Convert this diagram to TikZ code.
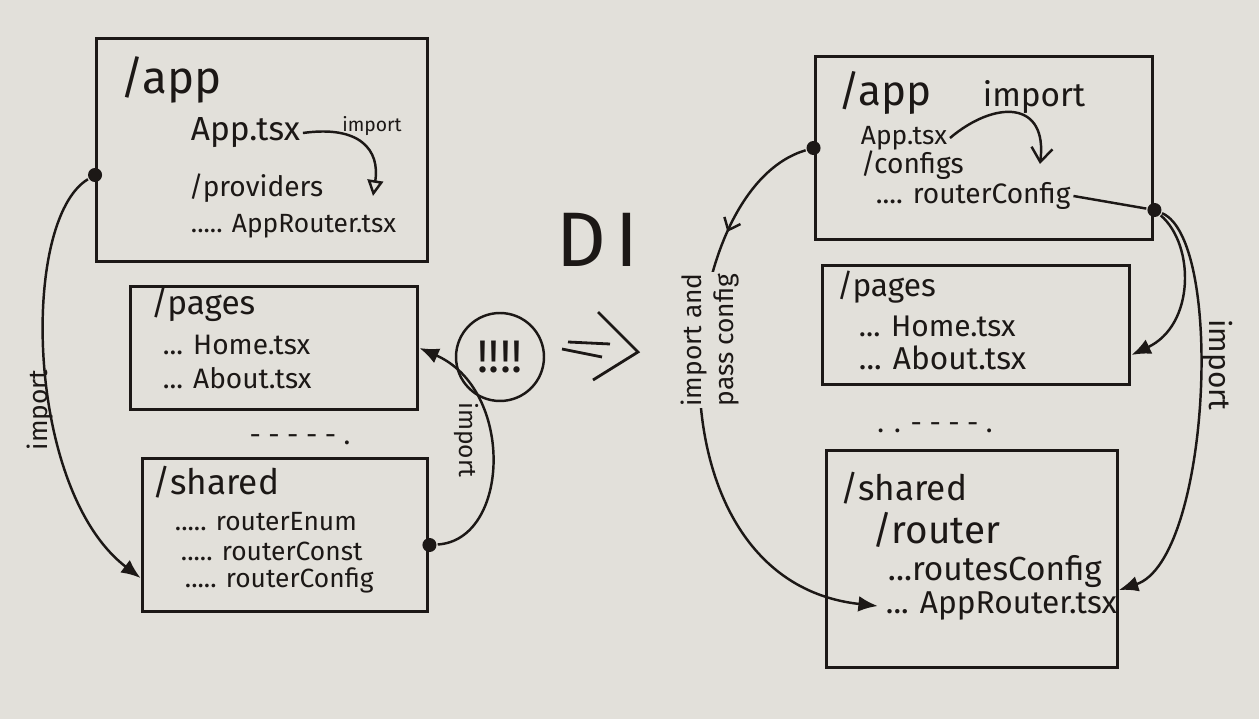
\documentclass[tikz,border=0pt]{standalone}
\usepackage{fontspec}
\setmainfont{Fira Sans}
\usepackage{tikz}
\usetikzlibrary{positioning, arrows.meta, decorations.markings, calc}
\definecolor{board}{RGB}{226,224,218}
\definecolor{ink}{RGB}{28,24,22}

\begin{document}
\begin{tikzpicture}[x=0.02cm, y=-0.02cm, ink, line width=1.4pt,
    folder/.style={draw, rectangle, line width=1.7pt},
    title/.style={anchor=west, inner sep=1pt, font=\fontsize{24}{28}\selectfont},
    item/.style={anchor=west, inner sep=1pt, font=\fontsize{16}{19}\selectfont},
    tag/.style={inner sep=1pt, font=\fontsize{14}{16}\selectfont},
    joint/.style={circle, fill=ink, inner sep=0pt, minimum size=8pt},
    link/.style={-{Latex[length=11pt,width=9pt]}},
    midbarb/.style={postaction={decorate}, decoration={markings,
        mark=at position #1 with {\arrow{Straight Barb[length=6pt,width=10pt]}}}}
]
\useasboundingbox (0,0) rectangle (1259,719);
\fill[board] (0,0) rectangle (1259,719);

% before: the app imports the router
\node[folder, minimum width=6.62cm, minimum height=4.48cm] (lapp) at (262,150) {};
\node[title, font=\fontsize{26}{30}\selectfont] (lapp-name) at (118,80) {/app};
\node[item, font=\fontsize{19}{22}\selectfont] (lapp-file) at (188,133) {App.tsx};
\node[item] (lapp-prov) at (186,188) {/providers};
\node[item, font=\fontsize{15}{18}\selectfont] (lapp-router) at (188,226) {..... AppRouter.tsx};
\node[tag, font=\fontsize{11}{13}\selectfont] (lapp-imp) at (372,126) {import};
\coordinate (lapp-target) at (373,196);
\draw[-{Triangle[open,length=9pt,width=9pt]}] (lapp-file.east) .. controls (360,125) and (380,150) .. (lapp-target);

\node[folder, minimum width=5.76cm, minimum height=2.46cm] (lpages) at (274,348) {};
\node[title, font=\fontsize{19}{22}\selectfont] (lpages-name) at (148,305) {/pages};
\node[item] (lpages-home) at (160,345) {... Home.tsx};
\node[item] (lpages-about) at (160,378) {... About.tsx};

\node[tag, font=\fontsize{16}{18}\selectfont] (ldots) at (300,440) {- - - - - .};

\node[folder, minimum width=5.72cm, minimum height=3.08cm] (lshared) at (285,535) {};
\node[title, font=\fontsize{20}{24}\selectfont] (lshared-name) at (150,482) {/shared};
\node[item, font=\fontsize{15}{18}\selectfont] (lshared-enum) at (172,522) {..... routerEnum};
\node[item, font=\fontsize{15}{18}\selectfont] (lshared-const) at (178,551) {..... routerConst};
\node[item, font=\fontsize{15}{18}\selectfont] (lshared-config) at (182,580) {..... routerConfig};

\node[joint] (lapp-dot) at ([yshift=-0.5cm]lapp.west) {};
\coordinate (lshared-in) at ([yshift=-0.86cm]lshared.west);
\draw[link] (lapp-dot) .. controls (20,220) and (25,490) .. (lshared-in);
\node[tag, rotate=90, font=\fontsize{15}{17}\selectfont] (lapp-limp) at (40,410) {import};

\node[joint] (lshared-dot) at ([yshift=-0.2cm]lshared.east) {};
\draw[link] (lshared-dot) .. controls (510,540) and (515,390) .. (lpages.east);
\node[tag, rotate=-90] (lshared-imp) at (466,440) {import};

\node[draw, circle, minimum size=1.76cm, inner sep=0pt, font=\fontsize{26}{28}\selectfont] (warn) at (500,357) {!!!!};

% DI
\node[font=\fontsize{44}{48}\selectfont] (di) at (597,240) {D\hspace{0.12em}I};
\draw[line width=1.6pt] (568,342) -- (610,344) (562,349) -- (602,357)
    (598,312) -- (638,352) -- (593,380);

% after: the config is passed in
\node[folder, minimum width=6.76cm, minimum height=3.66cm] (rapp) at (984,148) {};
\node[title, font=\fontsize{24}{28}\selectfont] (rapp-name) at (836,93) {/app};
\node[tag, font=\fontsize{19}{22}\selectfont] (rapp-imp) at (1034,97) {import};
\node[item, font=\fontsize{15}{18}\selectfont] (rapp-file) at (858,138) {App.tsx};
\node[item, font=\fontsize{16}{19}\selectfont] (rapp-configs) at (858,165) {/configs};
\node[item] (rapp-config) at (873,196) {.... routerConfig};
\coordinate (rapp-target) at (1040,164);
\draw[-{Straight Barb[length=8pt,width=12pt]}] (rapp-file.east) .. controls (995,100) and (1048,100) .. (rapp-target);

\node[folder, minimum width=6.16cm, minimum height=2.4cm] (rpages) at (976,325) {};
\node[title, font=\fontsize{18}{22}\selectfont] (rpages-name) at (834,287) {/pages};
\node[item, font=\fontsize{17}{20}\selectfont] (rpages-home) at (856,326) {... Home.tsx};
\node[item, font=\fontsize{18}{21}\selectfont] (rpages-about) at (856,358) {... About.tsx};

\node[tag, font=\fontsize{16}{18}\selectfont] (rdots) at (935,428) {. . - - - - .};

\node[folder, minimum width=5.82cm, minimum height=4.36cm] (rshared) at (972,559) {};
\node[title, font=\fontsize{20}{24}\selectfont] (rshared-name) at (838,488) {/shared};
\node[title, font=\fontsize{22}{26}\selectfont] (rshared-router) at (870,530) {/router};
\node[item, font=\fontsize{19}{22}\selectfont] (rshared-routes) at (885,572) {...routesConfig};
\node[item, font=\fontsize{18}{21}\selectfont] (rshared-app) at (883,606) {... AppRouter.tsx};

\node[joint] (rapp-dotl) at (rapp.west) {};
\node[joint] (rapp-dotr) at ([yshift=-1.24cm]rapp.east) {};
\draw (rapp-config.east) -- (rapp-dotr);
\draw[link] (rapp-dotr) .. controls (1195,245) and (1195,325) .. ([yshift=-0.6cm]rpages.east);
\draw[link] (rapp-dotr) .. controls (1225,240) and (1210,560) .. ([yshift=-0.62cm]rshared.east);
\node[tag, rotate=-90, font=\fontsize{17}{19}\selectfont] (rapp-rimp) at (1218,365) {import};

\draw[link, midbarb=0.2] (rapp-dotl) .. controls (670,190) and (640,580) .. ([xshift=-3pt]rshared-app.west);
\node[tag, rotate=90, align=center, fill=board, font=\fontsize{15}{18}\selectfont] (rpass) at (710,340) {import and\\pass config};
\end{tikzpicture}
\end{document}
